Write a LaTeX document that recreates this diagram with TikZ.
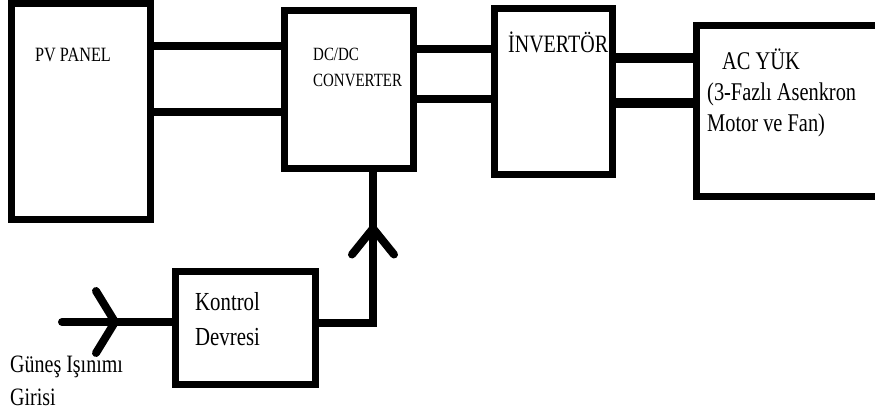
\documentclass[tikz,border=0pt]{standalone}
\usepackage{fontspec}
\setmainfont{Liberation Serif}[FakeStretch=0.8]
\usetikzlibrary{
  calc,
  decorations.markings
}
\tikzset{
  block/.style={
    draw=black,
    line width=7pt,
    fill=white,
    inner sep=0pt
  },
  wire/.style={
    draw=black,
    line width=8pt
  },
  acwire/.style={
    draw=black,
    line width=10pt,
    line cap=round
  },
  boxtext/.style={
    anchor=base west,
    inner sep=0pt,
    align=left,
    text=black
  },
  chevron/.style n args={3}{
    postaction=decorate,
    decoration={markings,
      mark=at position #1 with {
        \draw[line width=8pt, line cap=round, line join=round]
          (-#2,#3) -- (0pt,0pt) -- (-#2,-#3);
      }
    }
  }
}

\begin{document}
\begin{tikzpicture}[x=1pt, y=-1pt]
  \useasboundingbox (0,0) rectangle (875,414);

  % blocks
  \node[block, minimum width=138.5pt, minimum height=215.5pt] (pv) at (80.75,111.25) {};
  \node[block, minimum width=129pt, minimum height=158pt] (dcdc) at (349,90) {};
  \node[block, minimum width=118pt, minimum height=166pt] (inv) at (553,92) {};
  \node[block, minimum width=204pt, minimum height=171pt] (ac) at (798,111.5) {};
  \node[block, minimum width=140pt, minimum height=113pt] (ctrl) at (245,327.5) {};

  % power path
  \draw[wire] (pv.east |- 0,46) -- (dcdc.west |- 0,46);
  \draw[wire] (pv.east |- 0,112) -- (dcdc.west |- 0,112);
  \draw[wire] (dcdc.east |- 0,49) -- (inv.west |- 0,49);
  \draw[wire] (dcdc.east |- 0,99) -- (inv.west |- 0,99);
  \draw[acwire] (inv.east |- 0,58) -- (ac.west |- 0,58);
  \draw[acwire] (inv.east |- 0,103) -- (ac.west |- 0,103);

  % control path
  \coordinate (sun) at (62,322);
  \draw[wire, line cap=round, chevron={53pt}{19pt}{31pt}] (sun) -- (sun -| ctrl.west);
  \draw[wire, chevron={149pt}{26pt}{21pt}] ([yshift=4.5pt]ctrl.east) -| ([xshift=24pt]dcdc.south);

  % labels (base = last line)
  \node[boxtext, font=\fontsize{20.3}{23}\selectfont] (pvlabel) at (35,62) {PV PANEL};
  \node[boxtext, font=\fontsize{18.7}{26}\selectfont] (dclabel) at (313,87) {DC/DC\\CONVERTER};
  \node[boxtext, font=\fontsize{25}{28}\selectfont] (invlabel) at (508,53) {İNVERTÖR};
  \node[boxtext, font=\fontsize{25.5}{31}\selectfont] (aclabel) at (707,132)
    {\hspace*{15pt}AC YÜK\\(3-Fazlı Asenkron\\Motor ve Fan)};
  \node[boxtext, font=\fontsize{26}{35}\selectfont] (ctrllabel) at (195,345) {Kontrol\\Devresi};
  \node[boxtext, font=\fontsize{25}{33}\selectfont] (sunlabel) at (10,405) {Güneş Işınımı\\Girisi};
\end{tikzpicture}
\end{document}
